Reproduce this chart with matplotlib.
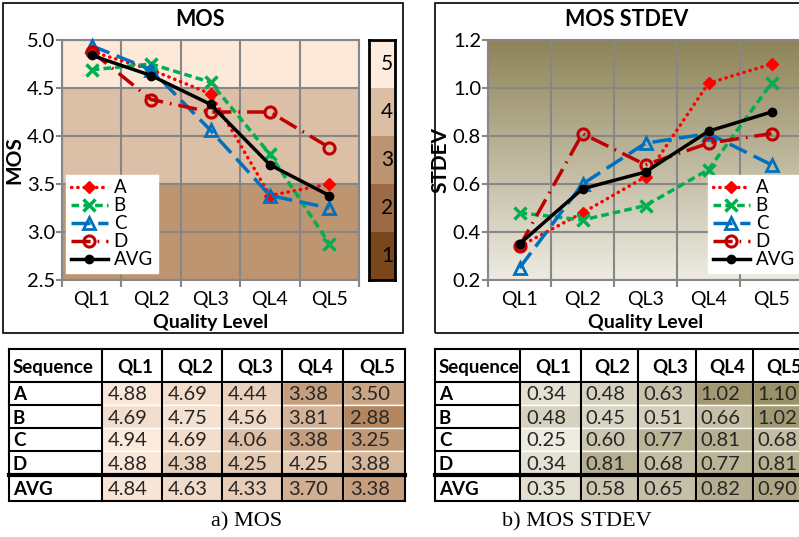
import matplotlib
matplotlib.use("Agg")
import matplotlib.pyplot as plt
import numpy as np
from matplotlib.colors import LinearSegmentedColormap, Normalize
from matplotlib.patches import Rectangle

plt.rcParams['font.family'] = ['Lato', 'DejaVu Sans']

levels = ["QL1", "QL2", "QL3", "QL4", "QL5"]
sequences = ["A", "B", "C", "D", "AVG"]

# MOS per sequence
mos_a = [4.88, 4.69, 4.44, 3.38, 3.50]
mos_b = [4.69, 4.75, 4.56, 3.81, 2.88]
mos_c = [4.94, 4.69, 4.06, 3.38, 3.25]
mos_d = [4.88, 4.38, 4.25, 4.25, 3.88]
mos_avg = [4.84, 4.63, 4.33, 3.70, 3.38]

# MOS standard deviation
std_a = [0.34, 0.48, 0.63, 1.02, 1.10]
std_b = [0.48, 0.45, 0.51, 0.66, 1.02]
std_c = [0.25, 0.60, 0.77, 0.81, 0.68]
std_d = [0.34, 0.81, 0.68, 0.77, 0.81]
std_avg = [0.35, 0.58, 0.65, 0.82, 0.90]

mos_rows = [mos_a, mos_b, mos_c, mos_d, mos_avg]
std_rows = [std_a, std_b, std_c, std_d, std_avg]

scale = [5, 4, 3, 2, 1]
scale_colors = ["#FDEBDD", "#DCBEA5", "#BD9471", "#9C6B45", "#7A461B"]

W, H = 799, 537
fig = plt.figure(figsize=(W / 100, H / 100), dpi=100)
grid_c = "#878787"


def box(x0, y0, x1, y1):
    return [x0 / W, 1 - y1 / H, (x1 - x0) / W, (y1 - y0) / H]


styles = {
    "A": dict(color="#FF0000", ls=(0, (0.1, 1.7)), dash_capstyle="round",
              marker="D", ms=6, mfc="#FF0000", mec="#FF0000"),
    "B": dict(color="#00B050", ls=(0, (2.2, 1.2)), marker="x", ms=9, mew=2.5),
    "C": dict(color="#0070C0", ls=(0, (5.5, 2.2)), marker="^", ms=8,
              mfc="none", mew=2),
    "D": dict(color="#C00000", ls=(0, (5.5, 2, 0.5, 2)), marker="o", ms=8,
              mfc="none", mew=2.2),
    "AVG": dict(color="black", ls="-", marker="o", ms=6),
}


def style_axis(ax, ylim, yticks):
    x = np.arange(len(levels))
    ax.set_xlim(-0.5, 4.5)
    ax.set_ylim(*ylim)
    ax.set_xticks(x)
    ax.set_xticklabels(levels)
    ax.set_xticks(np.arange(-0.5, 5, 1), minor=True)
    ax.set_yticks(yticks)
    ax.set_yticklabels(["%.1f" % v for v in yticks])
    ax.grid(True, which="minor", axis="x", color=grid_c, lw=1.5)
    ax.grid(True, which="major", axis="y", color=grid_c, lw=1.5)
    ax.grid(False, which="major", axis="x")
    ax.tick_params(axis="x", which="major", length=0, pad=8, labelsize=14)
    ax.tick_params(axis="x", which="minor", length=5, width=1.5, color=grid_c)
    ax.tick_params(axis="y", length=4, width=1.5, color=grid_c, pad=1, labelsize=14.5)
    for s in ax.spines.values():
        s.set_color(grid_c)
        s.set_linewidth(1.5)
    ax.set_axisbelow(True)
    ax.set_xlabel("Quality Level", fontsize=14, fontweight="bold", labelpad=4)


def plot_series(ax, rows):
    x = np.arange(len(levels))
    for name, vals in zip(sequences, rows):
        ax.plot(x, vals, lw=2.5, label=name, clip_on=False, zorder=3, **styles[name])


def add_legend(ax, x0):
    leg = ax.legend(loc="lower left", bbox_to_anchor=(x0, 0.03), borderaxespad=0,
                    fontsize=13.5, frameon=True, fancybox=False, framealpha=1,
                    handlelength=2.0, labelspacing=0.05, handletextpad=0.3,
                    borderpad=0.25)
    leg.get_frame().set_edgecolor("white")


# panel frames
fig.patches.append(Rectangle((3 / W, 1 - 333 / H), 400 / W, 330 / H, transform=fig.transFigure,
                             fill=False, ec="black", lw=1.2))
fig.patches.append(Rectangle((435 / W, 1 - 333 / H), 380 / W, 330 / H, transform=fig.transFigure,
                             fill=False, ec="black", lw=1.2))

# a) MOS chart
ax1 = fig.add_axes(box(62, 40, 359, 280))
band_edges = [2.5, 3.5, 4.5, 5.0]
band_colors = ["#BE9571", "#DBBFA6", "#FCE9DA"]
for lo, hi, c in zip(band_edges[:-1], band_edges[1:], band_colors):
    ax1.axhspan(lo, hi, color=c, zorder=0, lw=0)
plot_series(ax1, mos_rows)
style_axis(ax1, (2.5, 5.0), [2.5, 3.0, 3.5, 4.0, 4.5, 5.0])
ax1.set_ylabel("MOS", fontsize=15, fontweight="bold", labelpad=2)
add_legend(ax1, 0.013)
fig.text(200 / W, 1 - 20 / H, "MOS", fontsize=15.5, fontweight="bold", ha="center", va="center")

# colour scale
axc = fig.add_axes(box(369, 40, 395, 280))
axc.barh(scale, 1, height=1, color=scale_colors)
for s in scale:
    axc.text(0.7, s, str(s), ha="center", va="center", fontsize=15)
axc.set_xlim(0, 1)
axc.set_ylim(0.5, 5.5)
axc.set_xticks([])
axc.set_yticks([])
for s in axc.spines.values():
    s.set_linewidth(2)

# b) MOS STDEV chart
ax2 = fig.add_axes(box(488, 40, 803, 280))
grad = np.linspace(0, 1, 256)[:, None]
bg = LinearSegmentedColormap.from_list("bg", ["#EEEBE3", "#8E8458"])
ax2.imshow(grad, cmap=bg, aspect="auto", extent=[-0.5, 4.5, 0.2, 1.2],
           origin="lower", zorder=0)
plot_series(ax2, std_rows)
style_axis(ax2, (0.2, 1.2), [0.2, 0.4, 0.6, 0.8, 1.0, 1.2])
ax2.set_ylabel("STDEV", fontsize=15, fontweight="bold", labelpad=2)
add_legend(ax2, 0.698)
fig.text(627 / W, 1 - 20 / H, "MOS STDEV", fontsize=15.5, fontweight="bold", ha="center", va="center")


# tables
def draw_table(left, top, col_w, row_h, rows, cmap, norm):
    ax = fig.add_axes(box(left, top, left + sum(col_w), top + sum(row_h)))
    xe = np.concatenate([[0], np.cumsum(col_w)])
    ye = np.concatenate([[0], np.cumsum(row_h)])
    ax.set_xlim(0, xe[-1])
    ax.set_ylim(ye[-1], 0)
    ax.axis("off")
    ax.text(xe[0] + 4, (ye[0] + ye[1]) / 2, "Sequence", fontsize=13.5, fontweight="bold",
            ha="left", va="center_baseline")
    for j, lv in enumerate(levels):
        ax.text((xe[j + 1] + xe[j + 2]) / 2 + 3, (ye[0] + ye[1]) / 2, lv, fontsize=13.5,
                fontweight="bold", ha="center", va="center_baseline")
    for i, (name, vals) in enumerate(zip(sequences, rows)):
        y0, y1 = ye[i + 1], ye[i + 2]
        ax.text(xe[0] + 4, (y0 + y1) / 2, name, fontsize=13.5, fontweight="bold",
                ha="left", va="center_baseline")
        for j, v in enumerate(vals):
            ax.add_patch(Rectangle((xe[j + 1], y0), col_w[j + 1], row_h[i + 1],
                                   fc=cmap(norm(v)), ec="white", lw=1))
            ax.text((xe[j + 1] + xe[j + 2]) / 2 - 4, (y0 + y1) / 2, "%.2f" % v,
                    fontsize=14.5, color="#262626", ha="center", va="center_baseline")
    for xv in xe:
        ax.plot([xv, xv], [0, ye[-1]], color="black", lw=1.5, clip_on=False)
    for yv in [ye[0], ye[1], ye[-1]]:
        ax.plot([0, xe[-1]], [yv, yv], color="black", lw=1.5, clip_on=False)
    for yv in ye[2:-2]:
        ax.plot([0, xe[1]], [yv, yv], color="black", lw=1.5, clip_on=False)
    ax.plot([0, xe[-1]], [ye[-2], ye[-2]], color="black", lw=3, clip_on=False)


row_h = [33, 23, 23, 23, 24, 26]
mos_cmap = LinearSegmentedColormap.from_list("mos", ["#B38660", "#FCEADC"])
mos_vals = np.array(mos_rows)
draw_table(9, 349, [93, 60, 60, 60, 61, 62], row_h, mos_rows, mos_cmap,
           Normalize(mos_vals.min(), mos_vals.max()))
std_cmap = LinearSegmentedColormap.from_list("std", ["#EDEAE0", "#9A9168"])
std_vals = np.array(std_rows)
draw_table(435, 349, [85, 61, 57, 58, 57, 57], row_h, std_rows, std_cmap,
           Normalize(std_vals.min(), std_vals.max()))

fig.text(247 / W, 1 - 522 / H, "a) MOS", family="Liberation Serif", fontsize=16,
         ha="center", va="center")
fig.text(577 / W, 1 - 522 / H, "b) MOS STDEV", family="Liberation Serif", fontsize=16,
         ha="center", va="center")

fig.savefig("out.png", dpi=100, facecolor="white")
